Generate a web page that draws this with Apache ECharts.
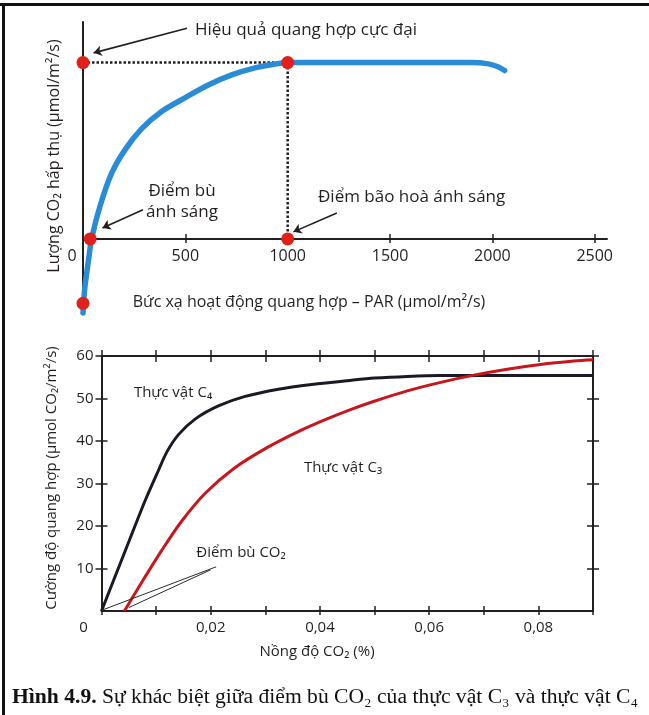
<!DOCTYPE html>
<html>
<head>
<meta charset="utf-8">
<script src="https://cdn.jsdelivr.net/npm/echarts@6/dist/echarts.min.js"></script>
<style>
  html, body { margin: 0; padding: 0; background: #fff; }
  #main { width: 649px; height: 715px; }
</style>
</head>
<body>
<div id="main"></div>
<script>
// top chart: CO2 uptake vs PAR (no y scale in the figure, max = 20)
var parTicks = [0, 500, 1000, 1500, 2000, 2500];
var parX    = [0, 4, 10, 18, 28, 42, 83, 140, 205, 287, 384, 498, 612, 726, 840, 937, 1000, 1200, 1500, 1800, 1900, 1980, 2030, 2060];
var uptakeY = [-8.4, -6.8, -5.3, -3.9, -2.2, 0, 3.7, 7.45, 10.1, 12.5, 14.45, 16.0, 17.45, 18.6, 19.4, 19.82, 20, 20, 20, 20, 20, 19.85, 19.5, 19.1];
var keyX = [0, 1000, 1000, 35, 0];
var keyY = [20, 20, 0, 0, -7.3];

// bottom chart: photosynthesis rate vs CO2 concentration
var co2Ticks = [0, 0.02, 0.04, 0.06, 0.08];
var rateTicks = [10, 20, 30, 40, 50, 60];
var co2C4  = [0, 0.005, 0.008, 0.0104, 0.012, 0.0141, 0.0172, 0.0215, 0.0263, 0.0324, 0.0385, 0.0458, 0.05, 0.056, 0.062, 0.07, 0.08, 0.09];
var rateC4 = [0, 16.3, 26, 33, 37.5, 41.5, 45.2, 48.3, 50.5, 52.2, 53.3, 54.3, 54.8, 55.2, 55.4, 55.4, 55.4, 55.4];
var co2C3  = [0.0042, 0.0073, 0.011, 0.0146, 0.0189, 0.0243, 0.0304, 0.0365, 0.0413, 0.0456, 0.0498, 0.056, 0.0621, 0.0682, 0.0743, 0.0804, 0.0865, 0.09];
var rateC3 = [0, 6.6, 14.2, 21.0, 27.6, 33.6, 38.5, 42.5, 45.2, 47.4, 49.3, 51.8, 53.8, 55.5, 56.9, 58.0, 58.8, 59.1];

function zip(a, b) { return a.map(function (v, i) { return [v, b[i]]; }); }

var INK = '#231f20';
var FONT = 'Open Sans';
var TICK = { color: INK, width: 1.5 };

var chart = echarts.init(document.getElementById('main'), null, { renderer: 'canvas' });

function tickAxis(extra) {
  var base = {
    type: 'value', axisLabel: { show: false }, splitLine: { show: false },
    axisLine: { show: false, onZero: false }
  };
  return Object.assign(base, extra);
}

// x axis of the top chart sits on y = 0 of a [-8.4, 24.6] scale, 291 px tall
var topZeroOffset = -Math.round(8.4 / 33 * 291);

var option = {
  backgroundColor: '#fff',
  animation: false,
  grid: [
    { left: 83, top: 22, width: 524, height: 291 },
    { left: 101.5, top: 356, width: 491.5, height: 255 }
  ],
  xAxis: [
    { // 0 top chart main
      gridIndex: 0, type: 'value', min: 0, max: 2560, interval: 500, position: 'bottom', offset: topZeroOffset,
      axisLine: { onZero: false, lineStyle: { color: INK, width: 2 } },
      axisTick: { show: true, length: 4, customValues: [500, 1500, 2000, 2500], lineStyle: TICK },
      axisLabel: {
        customValues: parTicks, color: INK, fontFamily: FONT, fontSize: 16, margin: 9,
        formatter: function (v) { return v === 0 ? '{z|0}' : String(v); },
        rich: { z: { padding: [0, 22, 0, 0], fontFamily: FONT, fontSize: 16, color: INK } }
      },
      splitLine: { show: false }
    },
    tickAxis({ gridIndex: 0, min: 0, max: 2560, interval: 500, position: 'bottom', offset: topZeroOffset,
      axisTick: { show: true, inside: true, length: 5, customValues: [500, 1500, 2000, 2500], lineStyle: TICK } }),
    { // 2 bottom chart main
      gridIndex: 1, type: 'value', min: 0, max: 0.09, interval: 0.01, position: 'bottom',
      axisLine: { onZero: false, lineStyle: { color: INK, width: 2 } },
      axisTick: { show: true, length: 4, lineStyle: TICK },
      axisLabel: {
        customValues: co2Ticks, color: INK, fontFamily: FONT, fontSize: 15, margin: 9,
        formatter: function (v) { return v === 0 ? '{z|0}' : v.toFixed(2).replace('.', ','); },
        rich: { z: { padding: [0, 36, 0, 0], fontFamily: FONT, fontSize: 15, color: INK } }
      },
      splitLine: { show: false }
    },
    tickAxis({ gridIndex: 1, min: 0, max: 0.09, interval: 0.01, position: 'bottom',
      axisTick: { show: true, inside: true, length: 5, lineStyle: TICK } }),
    { // 4 bottom chart top frame
      gridIndex: 1, type: 'value', min: 0, max: 0.09, interval: 0.01, position: 'top',
      axisLine: { onZero: false, lineStyle: { color: INK, width: 2 } },
      axisTick: { show: true, length: 6, lineStyle: TICK },
      axisLabel: { show: false }, splitLine: { show: false }
    },
    tickAxis({ gridIndex: 1, min: 0, max: 0.09, interval: 0.01, position: 'top',
      axisTick: { show: true, inside: true, length: 6, lineStyle: TICK } })
  ],
  yAxis: [
    { // 0 top chart
      gridIndex: 0, type: 'value', min: -8.4, max: 24.6, position: 'left',
      axisLine: { onZero: false, lineStyle: { color: INK, width: 2 } },
      axisTick: { show: false }, axisLabel: { show: false }, splitLine: { show: false }
    },
    { // 1 bottom chart left
      gridIndex: 1, type: 'value', min: 0, max: 60, interval: 10, position: 'left',
      axisLine: { onZero: false, lineStyle: { color: INK, width: 2 } },
      axisTick: { show: true, length: 6, customValues: rateTicks, lineStyle: TICK },
      axisLabel: { customValues: rateTicks, color: INK, fontFamily: FONT, fontSize: 15, margin: 8 },
      splitLine: { show: false }
    },
    tickAxis({ gridIndex: 1, min: 0, max: 60, interval: 10, position: 'left',
      axisTick: { show: true, inside: true, length: 6, customValues: rateTicks, lineStyle: TICK } }),
    { // 3 bottom chart right frame
      gridIndex: 1, type: 'value', min: 0, max: 60, interval: 10, position: 'right',
      axisLine: { onZero: false, lineStyle: { color: INK, width: 2 } },
      axisTick: { show: true, length: 6, customValues: rateTicks, lineStyle: TICK },
      axisLabel: { show: false }, splitLine: { show: false }
    },
    tickAxis({ gridIndex: 1, min: 0, max: 60, interval: 10, position: 'right',
      axisTick: { show: true, inside: true, length: 6, customValues: rateTicks, lineStyle: TICK } })
  ],
  series: [
    {
      name: 'guideH', type: 'line', xAxisIndex: 0, yAxisIndex: 0, showSymbol: false, silent: true,
      data: [[keyX[0], keyY[0]], [keyX[1], keyY[1]]],
      lineStyle: { color: INK, width: 2.5, type: [2.5, 2] }, z: 2
    },
    {
      name: 'guideV', type: 'line', xAxisIndex: 0, yAxisIndex: 0, showSymbol: false, silent: true,
      data: [[keyX[1], keyY[1]], [keyX[2], keyY[2]]],
      lineStyle: { color: INK, width: 2.5, type: [2.5, 2] }, z: 2
    },
    {
      name: 'PAR', type: 'line', xAxisIndex: 0, yAxisIndex: 0, showSymbol: false, smooth: 0.3,
      data: zip(parX, uptakeY),
      lineStyle: { color: '#2a8bd6', width: 5.5, cap: 'round' }, z: 3
    },
    {
      name: 'keys', type: 'scatter', xAxisIndex: 0, yAxisIndex: 0, symbolSize: 13,
      data: zip(keyX, keyY), itemStyle: { color: '#e0201b', opacity: 1 }, z: 5
    },
    {
      name: 'arrows', type: 'lines', coordinateSystem: 'cartesian2d', xAxisIndex: 0, yAxisIndex: 0,
      symbol: ['none', 'arrow'], symbolSize: 8,
      lineStyle: { color: INK, width: 1.6, opacity: 1, curveness: 0 },
      data: [
        { coords: [[508, 23.9], [52, 21.1]] },
        { coords: [[293, 3.3], [95, 1.25]] },
        { coords: [[1240, 2.95], [1028, 0.8]] }
      ], z: 6
    },
    {
      name: 'C4', type: 'line', xAxisIndex: 2, yAxisIndex: 1, showSymbol: false, smooth: 0.3,
      data: zip(co2C4, rateC4), lineStyle: { color: '#1b1a24', width: 3 }, z: 3
    },
    {
      name: 'C3', type: 'line', xAxisIndex: 2, yAxisIndex: 1, showSymbol: false, smooth: 0.3,
      data: zip(co2C3, rateC3), lineStyle: { color: '#c8161d', width: 3 }, z: 3
    },
    {
      name: 'compLines', type: 'lines', coordinateSystem: 'cartesian2d', xAxisIndex: 2, yAxisIndex: 1,
      symbol: ['none', 'none'], lineStyle: { color: '#2a2a2a', width: 1, opacity: 1, curveness: 0 },
      data: [
        { coords: [[0.0210, 10.4], [0.0003, 0.3]] },
        { coords: [[0.0200, 9.7], [0.0050, 0.8]] }
      ], z: 4
    }
  ],
  graphic: [
    { type: 'rect', shape: { x: 0, y: 3, width: 649, height: 3 }, style: { fill: '#111' } },
    { type: 'rect', shape: { x: 2, y: 3, width: 3, height: 712 }, style: { fill: '#111' } },

    { type: 'text', x: 195, y: 30, style: { text: 'Hiệu quả quang hợp cực đại', fill: INK, font: '17px "Open Sans"', align: 'left', verticalAlign: 'middle' } },
    { type: 'text', x: 182, y: 191, style: { text: 'Điểm bù', fill: INK, font: '17px "Open Sans"', align: 'center', verticalAlign: 'middle' } },
    { type: 'text', x: 182, y: 212, style: { text: 'ánh sáng', fill: INK, font: '17px "Open Sans"', align: 'center', verticalAlign: 'middle' } },
    { type: 'text', x: 318, y: 197, style: { text: 'Điểm bão hoà ánh sáng', fill: INK, font: '17px "Open Sans"', align: 'left', verticalAlign: 'middle' } },
    { type: 'text', x: 309, y: 302, style: { text: 'Bức xạ hoạt động quang hợp – PAR (µmol/m²/s)', fill: INK, font: '16px "Open Sans"', align: 'center', verticalAlign: 'middle' } },
    { type: 'text', x: 54, y: 156, rotation: Math.PI / 2, style: { text: 'Lượng CO₂ hấp thụ (µmol/m²/s)', fill: INK, font: '16px "Open Sans"', align: 'center', verticalAlign: 'middle' } },

    { type: 'text', x: 173, y: 393, style: { text: 'Thực vật C₄', fill: INK, font: '15px "Open Sans"', align: 'center', verticalAlign: 'middle' } },
    { type: 'text', x: 343, y: 468, style: { text: 'Thực vật C₃', fill: INK, font: '15px "Open Sans"', align: 'center', verticalAlign: 'middle' } },
    { type: 'text', x: 241, y: 553, style: { text: 'Điểm bù CO₂', fill: INK, font: '15px "Open Sans"', align: 'center', verticalAlign: 'middle' } },
    { type: 'text', x: 317, y: 652, style: { text: 'Nồng độ CO₂ (%)', fill: INK, font: '15px "Open Sans"', align: 'center', verticalAlign: 'middle' } },
    { type: 'text', x: 52, y: 478, rotation: Math.PI / 2, style: { text: 'Cường độ quang hợp (µmol CO₂/m²/s)', fill: INK, font: '15px "Open Sans"', align: 'center', verticalAlign: 'middle' } },

    { type: 'text', x: 12, y: 697, style: {
        text: '{b|Hình 4.9.} Sự khác biệt giữa điểm bù CO₂ của thực vật C₃ và thực vật C₄',
        fill: '#111', fontFamily: 'Liberation Serif', fontSize: 21.6, align: 'left', verticalAlign: 'middle',
        rich: { b: { fontFamily: 'Liberation Serif', fontSize: 21.6, fontWeight: 'bold', fill: '#111' } }
    } }
  ]
};

chart.setOption(option);
</script>
</body>
</html>
